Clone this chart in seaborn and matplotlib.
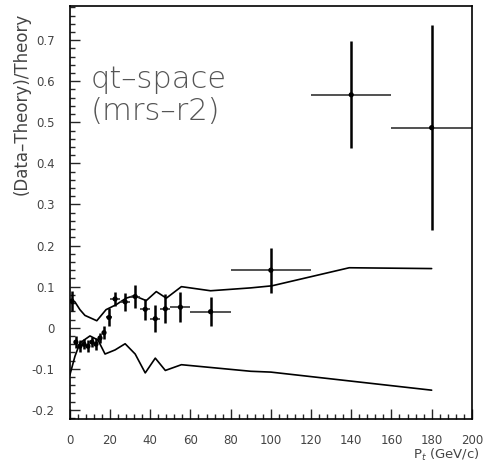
import matplotlib
matplotlib.use("Agg")
import matplotlib.pyplot as plt
import seaborn as sns
import pandas as pd
from matplotlib.ticker import MultipleLocator, FuncFormatter

# data points
pt = [1, 3, 5, 7, 9, 11, 13, 15, 17, 19.5, 22.5, 27.5, 32.5, 37.5, 42.5, 47.5, 55, 70, 100, 140, 180]
ratio = [0.065, -0.035, -0.045, -0.04, -0.045, -0.035, -0.04, -0.025, -0.012, 0.025, 0.07,
         0.063, 0.076, 0.045, 0.022, 0.046, 0.05, 0.039, 0.14, 0.567, 0.487]
yerr = [0.025, 0.015, 0.015, 0.012, 0.015, 0.012, 0.015, 0.012, 0.015, 0.022, 0.016,
        0.022, 0.028, 0.025, 0.033, 0.035, 0.036, 0.036, 0.055, 0.13, 0.25]
xerr = [1, 1, 1, 1, 1, 1, 1, 1, 1, 1.5, 2.5, 2.5, 2.5, 2.5, 2.5, 2.5, 5, 10, 20, 20, 20]

# theory uncertainty band
up_x = [0, 2.5, 5, 7.5, 13.4, 18, 23, 28, 32, 38, 43, 48, 55.5, 70, 90, 100.5, 139, 180]
up_y = [0.068, 0.063, 0.044, 0.03, 0.017, 0.044, 0.056, 0.072, 0.078, 0.066, 0.088,
        0.072, 0.1, 0.09, 0.097, 0.102, 0.146, 0.144]
lo_x = [0, 2.5, 5, 10, 14, 17.5, 22.5, 27.5, 32.5, 37.5, 42.5, 47.5, 55.5, 90, 100, 140, 180]
lo_y = [-0.115, -0.07, -0.037, -0.02, -0.03, -0.064, -0.054, -0.039, -0.064, -0.11,
        -0.074, -0.104, -0.09, -0.106, -0.108, -0.13, -0.152]

yticks = [-0.2, -0.1, 0, 0.1, 0.2, 0.3, 0.4, 0.5, 0.6, 0.7]
xticks = [0, 20, 40, 60, 80, 100, 120, 140, 160, 180, 200]

sns.set_style("ticks")
plt.rcParams['font.family'] = ['DejaVu Sans']

fig = plt.figure(figsize=(4.92, 4.66), dpi=100)
ax = fig.add_axes([0.142, 0.101, 0.817, 0.886])

up = pd.DataFrame({"x": up_x, "y": up_y})
lo = pd.DataFrame({"x": lo_x, "y": lo_y})
sns.lineplot(data=up, x="x", y="y", ax=ax, color="black", lw=1.2, sort=False, estimator=None)
sns.lineplot(data=lo, x="x", y="y", ax=ax, color="black", lw=1.2, sort=False, estimator=None)

ax.errorbar(pt, ratio, yerr=yerr, fmt='none', ecolor='black', elinewidth=1.8, capsize=0)
ax.errorbar(pt, ratio, xerr=xerr, fmt='none', ecolor='#333333', elinewidth=1.2, capsize=0)
sns.scatterplot(x=pt, y=ratio, ax=ax, color="black", s=14, edgecolor="none", zorder=5)

ax.set_xlim(0, 200)
ax.set_ylim(-0.222, 0.783)
ax.set_xticks(xticks)
ax.set_yticks(yticks)
ax.xaxis.set_minor_locator(MultipleLocator(4))
ax.yaxis.set_minor_locator(MultipleLocator(0.02))
ax.yaxis.set_major_formatter(FuncFormatter(lambda v, p: "0" if abs(v) < 1e-9 else f"{v:.1f}"))
ax.tick_params(which='major', direction='in', length=7, width=1, labelsize=8.5,
               labelcolor='#444444')
ax.tick_params(axis='x', which='major', pad=11)
ax.tick_params(axis='y', which='major', pad=11)
ax.tick_params(which='minor', direction='in', length=3.5, width=1)
for s in ax.spines.values():
    s.set_linewidth(1.2)
    s.set_color('black')

ax.set_xlabel("")
ax.set_ylabel("")
fig.text(0.044, 0.778, "(Data\u2013Theory)/Theory", rotation=90, ha='center', va='center',
         fontsize=12, color='#444444')
fig.text(0.976, 0.023, "P$_{t}$ (GeV/c)", ha='right', va='center', fontsize=9.5, color='#444444')

ax.text(10.5, 0.565, "qt\u2013space\n(mrs\u2013r2)", fontsize=22, color='#555555',
        ha='left', va='center', linespacing=1.15, fontweight='light')

fig.savefig("out.png", dpi=100)
